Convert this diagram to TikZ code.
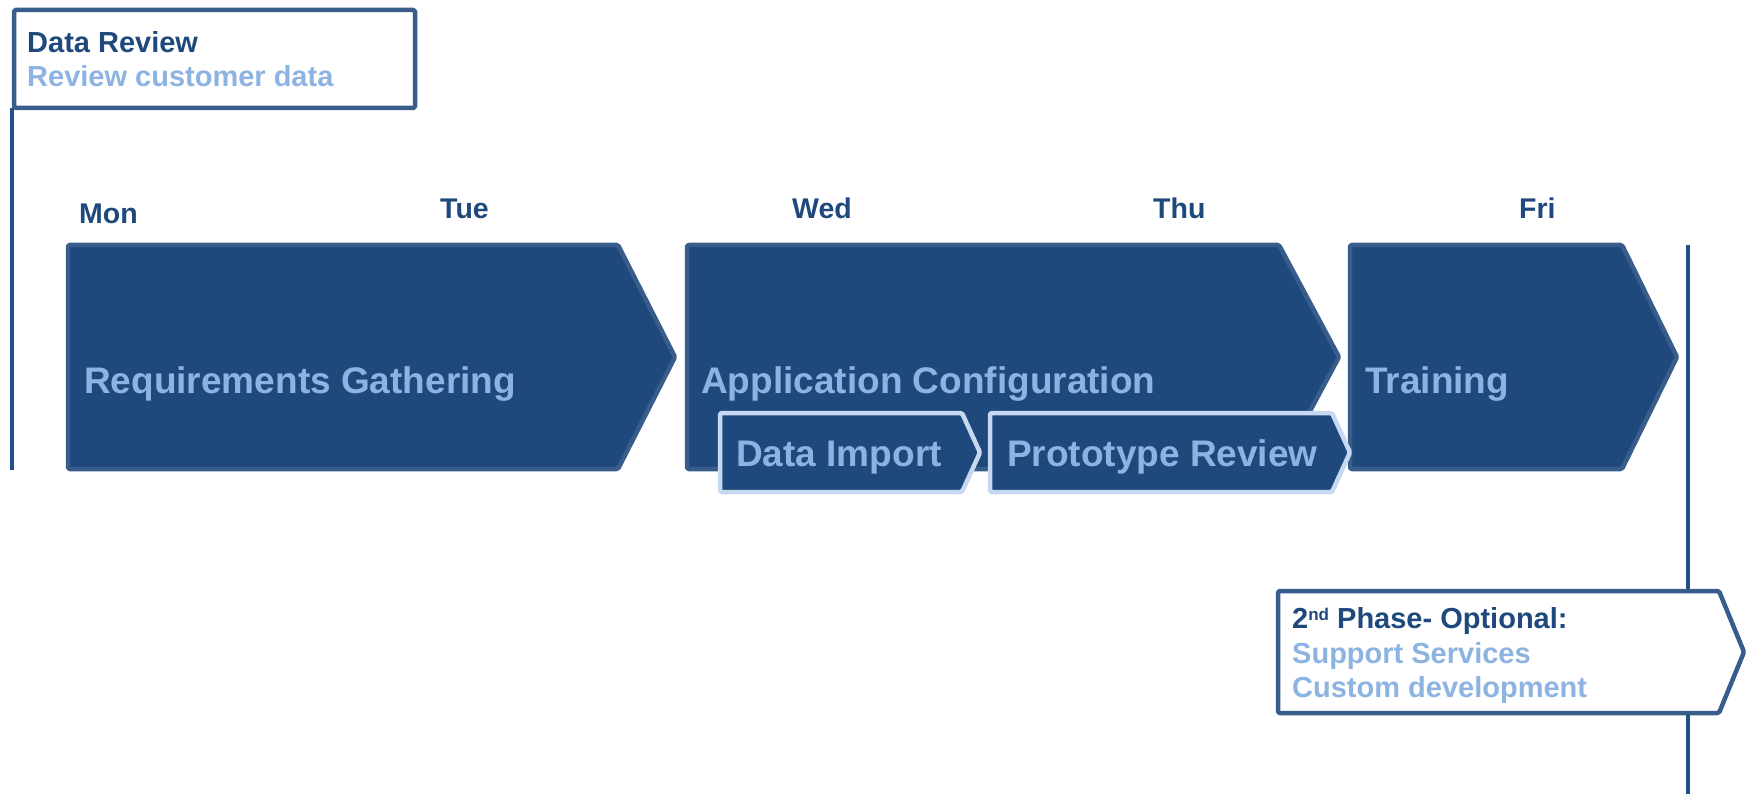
\documentclass[tikz,border=0pt]{standalone}
\usepackage{fontspec}
\setmainfont{Liberation Sans}
\definecolor{chevfill}{HTML}{1F497D}
\definecolor{chevborder}{HTML}{385D8A}
\definecolor{subborder}{HTML}{C6D9F1}
\definecolor{lighttext}{HTML}{8DB3E2}
\definecolor{darktext}{HTML}{1F497D}
\definecolor{linecol}{HTML}{24508A}
\begin{document}
\begin{tikzpicture}[x=1pt,y=-1pt,
  phase/.style={fill=chevfill,draw=chevborder,line width=4.5pt,line join=round,rounded corners=1.5pt},
  subphase/.style={fill=chevfill,draw=subborder,line width=4.5pt,line join=round,rounded corners=1.5pt},
  callout/.style={fill=white,draw=chevborder,line width=4.5pt,line join=round,rounded corners=1.5pt},
  vline/.style={draw=linecol,line width=4.5pt},
  txt/.style={anchor=base west,inner sep=0pt,font=\bfseries\fontsize{29}{34}\selectfont},
  daylbl/.style={txt,text=darktext,font=\bfseries\fontsize{28.5}{34}\selectfont},
  hdr/.style={txt,text=darktext},
  sub/.style={txt,text=lighttext},
  bigtxt/.style={txt,text=lighttext,font=\bfseries\fontsize{37}{42}\selectfont}]
\useasboundingbox (0,0) rectangle (1746,794);
% timeline lines
\coordinate (ltop) at (12,108);
\coordinate (lbot) at (12,470);
\coordinate (rtop) at (1688,245);
\coordinate (rbot) at (1688,794);
\draw[vline] (ltop) -- (lbot);
\draw[vline] (rtop) -- (rbot);
% Data Review callout
\draw[callout] (14,10) -- (415,10) -- (415,108) -- (14,108) -- cycle;
\node[hdr] (dr) at (27,53) {Data Review};
\node[sub] (drs) at (27,87) {Review customer data};
% day labels
\node[daylbl] (mon) at (79,224) {Mon};
\node[daylbl] (tue) at (440,219) {Tue};
\node[daylbl] (wed) at (792,219) {Wed};
\node[daylbl] (thu) at (1153,219) {Thu};
\node[daylbl] (fri) at (1519,219) {Fri};
% main phases
\draw[phase] (68,245) -- (618,245) -- (675,357) -- (618,469) -- (68,469) -- cycle;
\draw[phase] (687,245) -- (1279,245) -- (1339,357) -- (1279,469) -- (687,469) -- cycle;
\draw[phase] (1350,245) -- (1622,245) -- (1677,357) -- (1622,469) -- (1350,469) -- cycle;
\node[bigtxt] (req) at (84,393) {Requirements Gathering};
\node[bigtxt] (app) at (701,393) {Application Configuration};
\node[bigtxt] (trn) at (1365,393) {Training};
% sub phases
\draw[subphase] (720,413) -- (962,413) -- (980,452.5) -- (962,492) -- (720,492) -- cycle;
\draw[subphase] (990,413) -- (1332,413) -- (1350,452.5) -- (1332,492) -- (990,492) -- cycle;
\node[bigtxt] (imp) at (736,466) {Data Import};
\node[bigtxt] (pro) at (1007,466) {Prototype Review};
% 2nd phase callout
\draw[callout] (1278,591) -- (1719,591) -- (1744,652) -- (1719,713) -- (1278,713) -- cycle;
\node[hdr] (ph2) at (1292,628) {2\raisebox{8pt}{\fontsize{17}{20}\selectfont nd} Phase- Optional:};
\node[sub] (sup) at (1292,663) {Support Services};
\node[sub] (cus) at (1292,697) {Custom development};
\end{tikzpicture}
\end{document}
